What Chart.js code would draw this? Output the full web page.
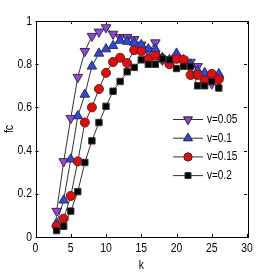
<!DOCTYPE html>
<html>
<head>
<meta charset="utf-8">
<script src="https://cdn.jsdelivr.net/npm/chart.js@4.4.1/dist/chart.umd.min.js"></script>
<style>
html, body { margin: 0; padding: 0; background: #fff; }
#wrap { width: 273px; height: 273px; }
</style>
</head>
<body>
<div id="wrap"><canvas id="myChart" width="273" height="273"></canvas></div>
<script>
// данные с картинки
var kValues = [3, 4, 5, 6, 7, 8, 9, 10, 11, 12, 13, 14, 15, 16, 17, 18, 19, 20, 21, 22, 23, 24, 25, 26];
var v005 = [0.12, 0.35, 0.55, 0.74, 0.86, 0.93, 0.95, 0.97, 0.94, 0.925, 0.925, 0.915, 0.89, 0.86, 0.90, 0.82, 0.81, 0.83, 0.82, 0.81, 0.79, 0.74, 0.71, 0.725];
var v01 = [0.065, 0.17, 0.36, 0.56, 0.66, 0.79, 0.85, 0.87, 0.885, 0.91, 0.905, 0.90, 0.89, 0.87, 0.87, 0.83, 0.82, 0.85, 0.82, 0.80, 0.77, 0.76, 0.74, 0.755];
var v015 = [0.05, 0.085, 0.19, 0.35, 0.53, 0.60, 0.685, 0.76, 0.81, 0.83, 0.805, 0.865, 0.86, 0.825, 0.84, 0.825, 0.80, 0.825, 0.82, 0.75, 0.75, 0.725, 0.755, 0.73];
var v02 = [0.03, 0.05, 0.12, 0.21, 0.345, 0.445, 0.53, 0.605, 0.675, 0.72, 0.765, 0.785, 0.82, 0.80, 0.80, 0.825, 0.82, 0.78, 0.79, 0.79, 0.70, 0.70, 0.72, 0.69];
var seriesLabels = ['v=0.05', 'v=0.1', 'v=0.15', 'v=0.2'];
var xTicks = [0, 5, 10, 15, 20, 25, 30];
var yTicks = [0, 0.2, 0.4, 0.6, 0.8, 1];
var xTitle = 'k';
var yTitle = 'fc';

var FONT = '"Liberation Sans", Arial, sans-serif';
var SQUEEZE = 0.8; // узкий шрифт как в оригинале

function points(vals) {
    return vals.map(function(v, i) { return { x: kValues[i], y: v }; });
}

function makeSet(label, vals, color, style, rot, radius, order) {
    return {
        label: label,
        data: points(vals),
        borderColor: '#333',
        borderWidth: 1,
        backgroundColor: color,
        pointBackgroundColor: color,
        pointBorderColor: '#333',
        pointBorderWidth: 1,
        pointStyle: style,
        pointRotation: rot,
        pointRadius: radius,
        tension: 0,
        order: order
    };
}

var sets = [
    makeSet(seriesLabels[0], v005, '#9b3cf2', 'triangle', 180, 5.5, 3),
    makeSet(seriesLabels[1], v01, '#2645ff', 'triangle', 0, 5.5, 2),
    makeSet(seriesLabels[2], v015, '#ff0000', 'circle', 0, 4.5, 1),
    makeSet(seriesLabels[3], v02, '#000000', 'rect', 0, 4.5, 0)
];

function narrowText(c, txt, x, y, align, rot) {
    c.save();
    c.translate(x, y);
    if (rot) c.rotate(rot);
    c.scale(SQUEEZE, 1);
    c.textAlign = align;
    c.textBaseline = 'middle';
    c.fillText(txt, 0, 0);
    c.restore();
}

// рамка, засечки внутрь, подписи и легенда
var boxPlugin = {
    id: 'box',
    afterDraw: function(chart) {
        var c = chart.ctx, a = chart.chartArea;
        var xs = chart.scales.x, ys = chart.scales.y;
        c.save();
        c.strokeStyle = '#000';
        c.lineWidth = 1;
        c.strokeRect(Math.round(a.left) + 0.5, Math.round(a.top) + 0.5,
            Math.round(a.right - a.left), Math.round(a.bottom - a.top));
        c.beginPath();
        xTicks.forEach(function(t) {
            var px = Math.round(xs.getPixelForValue(t)) + 0.5;
            c.moveTo(px, a.bottom); c.lineTo(px, a.bottom - 3);
            c.moveTo(px, a.top); c.lineTo(px, a.top + 3);
        });
        yTicks.forEach(function(t) {
            var py = Math.round(ys.getPixelForValue(t)) + 0.5;
            c.moveTo(a.left, py); c.lineTo(a.left + 3, py);
            c.moveTo(a.right, py); c.lineTo(a.right - 3, py);
        });
        c.stroke();

        c.fillStyle = '#000';
        c.font = '13px ' + FONT;
        xTicks.forEach(function(t) {
            narrowText(c, String(t), xs.getPixelForValue(t), a.bottom + 11.5, 'center');
        });
        yTicks.forEach(function(t) {
            narrowText(c, String(t), a.left - 3.5, ys.getPixelForValue(t), 'right');
        });
        narrowText(c, xTitle, (a.left + a.right) / 2, 265, 'center');
        narrowText(c, yTitle, 9, (a.top + a.bottom) / 2, 'center', -Math.PI / 2);

        // легенда
        var y0 = 119.5, step = 18.7;
        chart.data.datasets.forEach(function(ds, i) {
            var y = y0 + i * step;
            c.beginPath();
            c.strokeStyle = '#333';
            c.moveTo(173, y); c.lineTo(203, y);
            c.stroke();
            Chart.helpers.drawPoint(c, {
                pointStyle: ds.pointStyle,
                rotation: ds.pointRotation,
                radius: ds.pointRadius - 0.5,
                borderWidth: 1
            }, 188, y);
            c.fillStyle = ds.pointBackgroundColor;
            c.strokeStyle = '#333';
            c.fill();
            c.stroke();
            c.fillStyle = '#000';
            c.font = '12.5px ' + FONT;
            narrowText(c, ds.label, 207, y, 'left');
        });
        c.restore();
    }
};

new Chart(document.getElementById('myChart').getContext('2d'), {
    type: 'line',
    data: { datasets: sets },
    options: {
        responsive: false,
        animation: false,
        layout: { padding: { top: 21, right: 26, left: 0, bottom: 0 } },
        plugins: { legend: { display: false }, tooltip: { enabled: false } },
        scales: {
            x: {
                type: 'linear',
                min: 0, max: 30,
                afterFit: function(s) { s.height = 36; },
                afterBuildTicks: function(s) { s.ticks = xTicks.map(function(v) { return { value: v }; }); },
                grid: { display: false, drawTicks: false },
                border: { display: false },
                ticks: { display: false }
            },
            y: {
                type: 'linear',
                min: 0, max: 1,
                afterFit: function(s) { s.width = 35.5; },
                afterBuildTicks: function(s) { s.ticks = yTicks.map(function(v) { return { value: v }; }); },
                grid: { display: false, drawTicks: false },
                border: { display: false },
                ticks: { display: false }
            }
        }
    },
    plugins: [boxPlugin]
});
</script>
</body>
</html>
